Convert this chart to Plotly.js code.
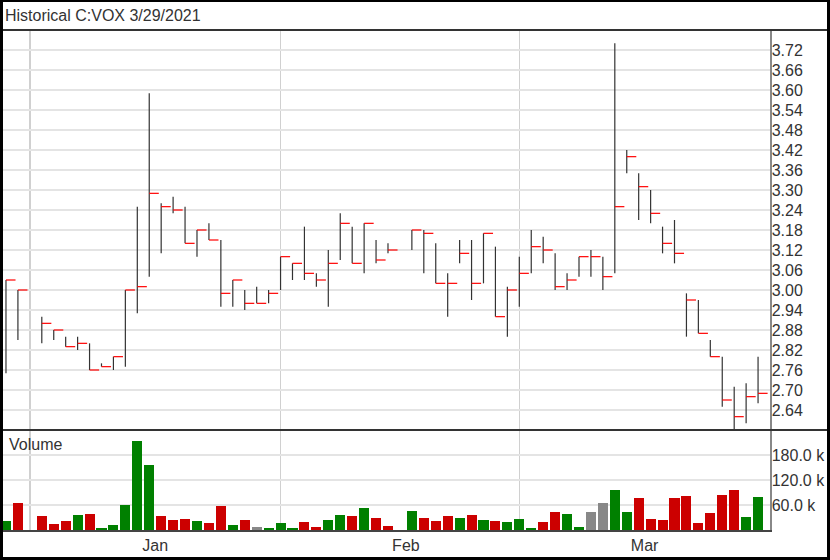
<!DOCTYPE html>
<html><head><meta charset="utf-8">
<script src="https://cdn.plot.ly/plotly-3.0.1.min.js"></script>
<style>
html,body{margin:0;padding:0;background:#fff;}
#wrap{position:relative;width:830px;height:560px;overflow:hidden;}
#chart{position:absolute;left:0;top:0;width:830px;height:560px;}
.frame{position:absolute;left:0;top:0;width:830px;height:560px;box-sizing:border-box;border:3px solid #000;border-top-width:2px;pointer-events:none;}
.hline{position:absolute;left:0;width:830px;height:2px;background:#333;pointer-events:none;}
</style></head><body>
<div id="wrap"><div id="chart"></div>
<div class="hline" style="top:29px"></div>
<div class="hline" style="top:429px"></div>
<div class="frame"></div></div>
<script>
var titleText = 'Historical C:VOX 3/29/2021';

var dates = ['2020-12-30','2020-12-31',
  '2021-01-04','2021-01-05','2021-01-06','2021-01-07','2021-01-08',
  '2021-01-11','2021-01-12','2021-01-13','2021-01-14','2021-01-15',
  '2021-01-18','2021-01-19','2021-01-20','2021-01-21','2021-01-22',
  '2021-01-25','2021-01-26','2021-01-27','2021-01-28','2021-01-29',
  '2021-02-01','2021-02-02','2021-02-03','2021-02-04','2021-02-05',
  '2021-02-08','2021-02-09','2021-02-10','2021-02-11','2021-02-12',
  '2021-02-16','2021-02-17','2021-02-18','2021-02-19',
  '2021-02-22','2021-02-23','2021-02-24','2021-02-25','2021-02-26',
  '2021-03-01','2021-03-02','2021-03-03','2021-03-04','2021-03-05',
  '2021-03-08','2021-03-09','2021-03-10','2021-03-11','2021-03-12',
  '2021-03-15','2021-03-16','2021-03-17','2021-03-18','2021-03-19',
  '2021-03-22','2021-03-23','2021-03-24','2021-03-25','2021-03-26',
  '2021-03-29'];

var high = [3.03,3.00,
  2.92,2.88,2.86,2.86,2.84,
  2.78,2.80,3.00,3.25,3.59,
  3.26,3.28,3.25,3.18,3.20,
  3.15,3.03,3.00,3.01,3.00,
  3.10,3.08,3.19,3.05,3.12,
  3.23,3.19,3.20,3.15,3.14,
  3.18,3.18,3.14,3.05,
  3.15,3.15,3.17,3.13,3.01,
  3.10,3.18,3.16,3.11,3.05,
  3.10,3.12,3.10,3.74,3.42,
  3.35,3.30,3.19,3.21,2.99,
  2.97,2.85,2.80,2.71,2.72,
  2.80];

var low = [2.75,2.85,
  2.84,2.85,2.83,2.82,2.76,
  2.77,2.76,2.77,2.93,3.04,
  3.11,3.23,3.14,3.10,3.15,
  2.95,2.95,2.94,2.96,2.96,
  3.00,3.03,3.03,3.01,2.95,
  3.09,3.08,3.05,3.08,3.11,
  3.12,3.05,3.02,2.92,
  3.08,2.97,3.02,2.92,2.86,
  2.95,3.05,3.08,3.00,3.00,
  3.04,3.04,3.00,3.05,3.35,
  3.21,3.20,3.11,3.08,2.86,
  2.87,2.80,2.65,2.57,2.60,
  2.66];

var close = [3.03,3.00,
  2.90,2.88,2.83,2.84,2.76,
  2.77,2.80,3.00,3.01,3.29,
  3.25,3.24,3.14,3.18,3.15,
  2.99,3.03,2.96,2.96,2.99,
  3.10,3.08,3.05,3.03,3.08,
  3.20,3.08,3.20,3.09,3.12,
  3.18,3.17,3.02,3.02,
  3.11,3.02,3.17,2.92,3.00,
  3.05,3.13,3.12,3.01,3.03,
  3.10,3.10,3.04,3.25,3.40,
  3.31,3.23,3.14,3.11,2.97,
  2.87,2.80,2.67,2.62,2.68,
  2.69];

var volume = [21600,65600,
  33600,14400,20800,36000,38400,
  4800,12800,59200,214000,155000,
  33600,23200,26400,21600,16000,
  56800,12000,24000,6400,4000,
  16800,5600,19200,8000,24000,
  36000,32800,53600,28800,8800,
  45600,28000,20800,33600,
  28800,36000,24800,20800,19200,
  25600,5600,18400,43200,39200,
  6400,42400,65600,96000,42400,
  76000,25600,24800,77600,81600,
  16000,40000,84000,95200,32000,
  79200];

// u = up (green), d = down (red), f = flat (gray)
var volDir = ['u','d',
  'd','d','d','u','d',
  'u','u','u','u','u',
  'd','d','d','u','d',
  'd','u','d','f','u',
  'u','u','d','d','u',
  'u','d','u','d','d',
  'u','d','d','d',
  'u','d','u','d','u',
  'u','u','d','d','u',
  'u','f','f','u','u',
  'd','d','d','d','d',
  'd','d','d','d','u',
  'u'];

var monthLabels = ['Jan','Feb','Mar'];
var monthLabelDates = ['2021-01-15 12:00','2021-02-15 12:00','2021-03-15 12:00'];
var monthStarts = ['2021-01-01','2021-02-01','2021-03-01'];
var priceTicks = [2.64,2.70,2.76,2.82,2.88,2.94,3.00,3.06,3.12,3.18,3.24,3.30,3.36,3.42,3.48,3.54,3.60,3.66,3.72];
var volTicks = [60000,120000,180000];
var volTickText = ['60.0 k','120.0 k','180.0 k'];

var DAY = 86400000;
function ms(d){ var p=d.split('-'); return Date.UTC(+p[0],+p[1]-1,+p[2]); }

var vx=[], vy=[], cx=[], cy=[];
for (var i=0;i<dates.length;i++){
  var t = ms(dates[i]);
  vx.push(t,t,null); vy.push(low[i],high[i],null);
  cx.push(t,t+0.8*DAY,null); cy.push(close[i],close[i],null);
}
var dirColor = {u:'#008000', d:'#cc0000', f:'#888888'};
var barColors = volDir.map(function(d){return dirColor[d];});

var traces = [
  {type:'scatter', mode:'lines', x:vx, y:vy, xaxis:'x', yaxis:'y',
   line:{color:'#333', width:1.2}, hoverinfo:'skip', connectgaps:false},
  {type:'scatter', mode:'lines', x:cx, y:cy, xaxis:'x', yaxis:'y',
   line:{color:'#ff0000', width:1.2}, hoverinfo:'skip', connectgaps:false},
  {type:'bar', x:dates.map(ms), y:volume, xaxis:'x', yaxis:'y2',
   width:0.84*DAY, marker:{color:barColors, line:{width:0}}, hoverinfo:'skip'}
];

var layout = {
  width:830, height:560,
  margin:{l:3, r:60, t:30, b:30, pad:0},
  paper_bgcolor:'#fff', plot_bgcolor:'#fff',
  showlegend:false,
  font:{family:'Arial, "Liberation Sans", sans-serif', size:16, color:'#333'},
  title:{text:titleText, x:5/830, xanchor:'left', xref:'container',
         y:1-15/560, yanchor:'middle', yref:'container',
         font:{size:16, color:'#333'}},
  xaxis:{type:'date', range:[ms('2020-12-30')-0.25*DAY, ms('2021-03-30')],
         rangebreaks:[{bounds:['sat','mon']}],
         tickmode:'array', tickvals:monthLabelDates, ticktext:monthLabels,
         showgrid:false, ticks:'', showline:true, linecolor:'#444', linewidth:2,
         anchor:'y2', zeroline:false, fixedrange:true,
         minor:{tickmode:'array', tickvals:monthStarts, showgrid:true,
                gridcolor:'#d0d0d0', gridwidth:1.5, ticks:''}},
  yaxis:{domain:[0.2,1], range:[2.58,3.78], side:'right', anchor:'x',
         tickmode:'array', tickvals:priceTicks, tickformat:'.2f',
         showgrid:true, gridcolor:'#e4e4e4', gridwidth:2, ticklabelstandoff:-3,
         showline:true, linecolor:'#888', linewidth:1.5, ticks:'', zeroline:false,
         fixedrange:true},
  yaxis2:{domain:[0,0.2], range:[0,240000], side:'right', anchor:'x',
          tickmode:'array', tickvals:volTicks, ticktext:volTickText,
          showgrid:true, gridcolor:'#e4e4e4', gridwidth:2, ticklabelstandoff:-3,
          showline:true, linecolor:'#888', linewidth:1.5, ticks:'', zeroline:false,
          fixedrange:true},
  bargap:0,
  annotations:[{text:'Volume', xref:'paper', yref:'paper', x:(8-3)/767, y:(530-444)/500,
                xanchor:'left', yanchor:'middle', showarrow:false,
                font:{size:16, color:'#333'}, borderpad:0}]
};

Plotly.newPlot('chart', traces, layout, {staticPlot:true, displayModeBar:false});
</script>
</body></html>
